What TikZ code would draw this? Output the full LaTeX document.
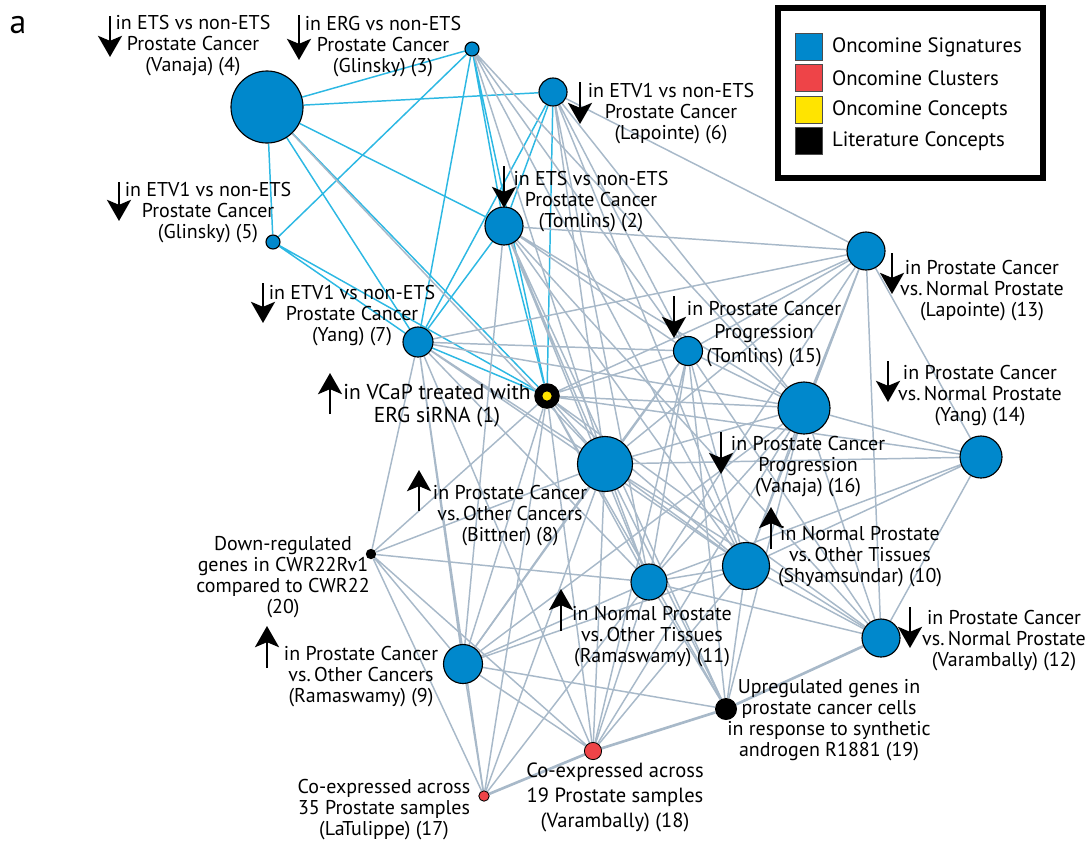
\documentclass[tikz,border=0pt]{standalone}
\usepackage{fontspec}
\setmainfont{PT Sans}
\usetikzlibrary{arrows.meta,positioning}
\definecolor{sigblue}{RGB}{0,136,204}
\definecolor{clured}{RGB}{238,68,72}
\definecolor{conyellow}{RGB}{255,228,0}
\definecolor{etsline}{RGB}{45,184,227}
\definecolor{netline}{RGB}{168,185,201}
\pgfdeclarelayer{edges}
\pgfsetlayers{edges,main}
\tikzset{
	sig/.style={circle, draw=black, line width=0.8pt, fill=sigblue, inner sep=0pt},
	clu/.style={circle, draw=black, line width=0.6pt, fill=clured, inner sep=0pt},
	lit/.style={circle, fill=black, inner sep=0pt},
	lbl/.style={align=center, inner sep=0pt, font=\fontsize{14.2}{14.9}\selectfont},
	blueedge/.style={draw=etsline, line width=1.05pt},
	grayedge/.style={draw=netline, line width=1.05pt},
	thickedge/.style={draw=netline, line width=1.9pt},
	bigarrow/.style={line width=2.1pt, -{Stealth[length=15pt, width=17pt, inset=3.5pt]}},
	legsq/.style={draw=black!70, line width=0.6pt, minimum size=0.675cm, inner sep=0pt},
	legtxt/.style={inner sep=0pt, font=\fontsize{14.8}{16}\selectfont}
}
\begin{document}
\begin{tikzpicture}[x=0.025cm, y=-0.025cm]
			%%%%% START %%%%%
			\useasboundingbox (0, 0) rectangle (1089, 844);
			
			\node[font=\fontsize{24}{28}\selectfont, inner sep=0pt] (tag) at (18, 25) {a};
			
			% signature nodes
			\node[sig, minimum size=1.8cm] (n4) at (267, 107) {};
			\node[sig, minimum size=0.35cm] (n3) at (472, 49) {};
			\node[sig, minimum size=0.7cm] (n6) at (553, 92) {};
			\node[sig, minimum size=0.35cm] (n5) at (273, 242) {};
			\node[sig, minimum size=0.95cm] (n2) at (504, 226) {};
			\node[sig, minimum size=0.75cm] (n7) at (418, 342) {};
			\node[sig, minimum size=0.95cm] (n13) at (866, 251) {};
			\node[sig, minimum size=0.725cm] (n15) at (688, 351) {};
			\node[sig, minimum size=1.05cm] (n14) at (981, 457) {};
			\node[sig, minimum size=1.3cm] (n16) at (804, 408) {};
			\node[sig, minimum size=1.375cm] (n8) at (605, 464) {};
			\node[sig, minimum size=1.175cm] (n10) at (746, 566) {};
			\node[sig, minimum size=0.9cm] (n11) at (649, 582) {};
			\node[sig, minimum size=0.95cm] (n12) at (881, 638) {};
			\node[sig, minimum size=0.975cm] (n9) at (463, 664) {};
			
			% concept and cluster nodes
			\node[lit, minimum size=0.64cm] (n1) at (547, 396) {};
			\fill[conyellow] (n1.center) circle (0.115cm);
			\node[lit, minimum size=0.26cm] (n20) at (371, 554) {};
			\node[lit, minimum size=0.55cm] (n19) at (726, 709) {};
			\node[clu, minimum size=0.43cm] (n18) at (593, 751) {};
			\node[clu, minimum size=0.26cm] (n17) at (484, 796) {};
			
			\begin{pgfonlayer}{edges}
			% ETS group
			\draw[blueedge] (n4) -- (n3) (n4) -- (n6) (n4) -- (n5) (n4) -- (n2) (n4) -- (n7) (n4) -- (n1);
			\draw[blueedge] (n3) -- (n5) (n3) -- (n7) (n3) -- (n2) (n3) -- (n1);
			\draw[blueedge] (n6) -- (n2) (n6) -- (n7) (n6) -- (n1);
			\draw[blueedge] (n2) -- (n7) (n2) -- (n1) (n5) -- (n7) (n5) -- (n1) (n7) -- (n1);
			
			% the rest
			\draw[grayedge] (n3) -- (n16) (n3) -- (n15) (n3) -- (n10) (n3) -- (n8) (n4) -- (n8);
			\draw[grayedge] (n6) -- (n13) (n6) -- (n15) (n6) -- (n16) (n6) -- (n8) (n6) -- (n11) (n6) -- (n10);
			\draw[grayedge] (n2) -- (n13) (n2) -- (n15) (n2) -- (n16) (n2) -- (n8) (n2) -- (n11) (n2) -- (n10) (n2) -- (n9) (n2) -- (n12) (n2) -- (n19);
			\draw[grayedge] (n7) -- (n15) (n7) -- (n16) (n7) -- (n13) (n7) -- (n8) (n7) -- (n11) (n7) -- (n9) (n7) -- (n20) (n7) -- (n17) (n7) -- (n18) (n7) -- (n10);
			\draw[grayedge] (n1) -- (n15) (n1) -- (n16) (n1) -- (n13) (n1) -- (n14) (n1) -- (n8) (n1) -- (n10) (n1) -- (n11) (n1) -- (n12) (n1) -- (n9) (n1) -- (n20) (n1) -- (n18) (n1) -- (n19) (n1) -- (n17);
			\draw[grayedge] (n13) -- (n15) (n13) -- (n16) (n13) -- (n8) (n13) -- (n10) (n13) -- (n14) (n13) -- (n12) (n13) -- (n11);
			\draw[grayedge] (n15) -- (n8) (n15) -- (n16) (n15) -- (n10) (n15) -- (n11) (n15) -- (n12) (n15) -- (n9) (n15) -- (n19) (n15) -- (n18);
			\draw[grayedge] (n16) -- (n8) (n16) -- (n14) (n16) -- (n10) (n16) -- (n11) (n16) -- (n12) (n16) -- (n9) (n16) -- (n19) (n16) -- (n18);
			\draw[grayedge] (n14) -- (n8) (n14) -- (n10) (n14) -- (n12) (n14) -- (n11);
			\draw[grayedge] (n8) -- (n10) (n8) -- (n11) (n8) -- (n12) (n8) -- (n9) (n8) -- (n18) (n8) -- (n19) (n8) -- (n20) (n8) -- (n17);
			\draw[grayedge] (n10) -- (n11) (n10) -- (n12) (n10) -- (n19) (n10) -- (n9) (n10) -- (n18);
			\draw[grayedge] (n11) -- (n12) (n11) -- (n19) (n11) -- (n9) (n11) -- (n18) (n11) -- (n17) (n11) -- (n20);
			\draw[grayedge] (n9) -- (n19) (n9) -- (n17) (n9) -- (n18) (n9) -- (n20) (n20) -- (n17) (n20) -- (n18);
			\draw[thickedge] (n17) -- (n18) (n18) -- (n19) (n19) -- (n12);
			\end{pgfonlayer}
			
			% labels
			\node[lbl] (t4) at (193, 46) {in ETS vs non-ETS\\Prostate Cancer\\(Vanaja) (4)};
			\node[lbl] (t3) at (383, 47) {in ERG vs non-ETS\\Prostate Cancer\\(Glinsky) (3)};
			\node[lbl] (t6) at (671, 114) {in ETV1 vs non-ETS\\Prostate Cancer\\(Lapointe) (6)};
			\node[lbl] (t5) at (208, 213) {in ETV1 vs non-ETS\\Prostate Cancer\\(Glinsky) (5)};
			\node[lbl] (t2) at (591, 202) {in ETS vs non-ETS\\Prostate Cancer\\(Tomlins) (2)};
			\node[lbl] (t7) at (352, 316) {in ETV1 vs non-ETS\\Prostate Cancer\\(Yang) (7)};
			\node[lbl, font=\fontsize{15.3}{16.3}\selectfont] (t1) at (437, 406) {in VCaP treated with\\ERG siRNA (1)};
			\node[lbl, font=\fontsize{14.2}{17}\selectfont] (t15) at (764, 334) {in Prostate Cancer\\Progression\\(Tomlins) (15)};
			\node[lbl] (t13) at (982, 291) {in Prostate Cancer\\vs.\,Normal Prostate\\(Lapointe) (13)};
			\node[lbl] (t14) at (980, 396) {in Prostate Cancer\\vs.\,Normal Prostate\\(Yang) (14)};
			\node[lbl] (t16) at (808, 467) {in Prostate Cancer\\Progression\\(Vanaja) (16)};
			\node[lbl] (t8) at (510, 516) {in Prostate Cancer\\vs.\,Other Cancers\\(Bittner) (8)};
			\node[lbl] (t10) at (860, 557) {in Normal Prostate\\vs.\,Other Tissues\\(Shyamsundar) (10)};
			\node[lbl] (t11) at (652, 637) {in Normal Prostate\\vs.\,Other Tissues\\(Ramaswamy) (11)};
			\node[lbl] (t12) at (1004, 641) {in Prostate Cancer\\vs.\,Normal Prostate\\(Varambally) (12)};
			\node[lbl] (t9) at (361, 677) {in Prostate Cancer\\vs.\,Other Cancers\\(Ramaswamy) (9)};
			\node[lbl] (t20) at (283, 577) {Down-regulated\\genes in CWR22Rv1\\compared to CWR22\\(20)};
			\node[lbl] (t19) at (829, 720) {Upregulated genes in\\prostate cancer cells\\in response to synthetic\\androgen R1881 (19)};
			\node[lbl, font=\fontsize{14.6}{17.8}\selectfont] (t18) at (615, 797) {Co-expressed across\\19 Prostate samples\\(Varambally) (18)};
			\node[lbl] (t17) at (384, 810) {Co-expressed across\\35 Prostate samples\\(LaTulippe) (17)};
			
			% up and down arrows
			\draw[bigarrow] (110, 16) -- (110, 57);
			\draw[bigarrow] (299, 15) -- (299, 60);
			\draw[bigarrow] (580, 82) -- (580, 124);
			\draw[bigarrow] (119, 182) -- (119, 221);
			\draw[bigarrow] (504, 166) -- (504, 208);
			\draw[bigarrow] (263, 283) -- (263, 323);
			\draw[bigarrow] (330, 414) -- (330, 373);
			\draw[bigarrow] (674, 296) -- (674, 338);
			\draw[bigarrow] (892, 253) -- (892, 294);
			\draw[bigarrow] (888, 361) -- (888, 402);
			\draw[bigarrow] (721, 432) -- (721, 474);
			\draw[bigarrow] (419, 511) -- (419, 470);
			\draw[bigarrow] (771, 549) -- (771, 507);
			\draw[bigarrow] (561, 631) -- (561, 589);
			\draw[bigarrow] (910, 607) -- (910, 648);
			\draw[bigarrow] (267, 668) -- (267, 626);
			
			% legend
			\draw[line width=4pt] (778, 8) rectangle (1043, 178);
			\node[legsq, fill=sigblue] (k1) at (809, 47) {};
			\node[legsq, fill=clured] (k2) at (809, 78) {};
			\node[legsq, fill=conyellow] (k3) at (809, 110) {};
			\node[legsq, fill=black] (k4) at (809, 141) {};
			\node[legtxt, right=0.22cm of k1] (k1t) {Oncomine Signatures};
			\node[legtxt, right=0.22cm of k2] (k2t) {Oncomine Clusters};
			\node[legtxt, right=0.22cm of k3] (k3t) {Oncomine Concepts};
			\node[legtxt, right=0.22cm of k4] (k4t) {Literature Concepts};
			
			%%%%% END %%%%%
\end{tikzpicture}
\end{document}
